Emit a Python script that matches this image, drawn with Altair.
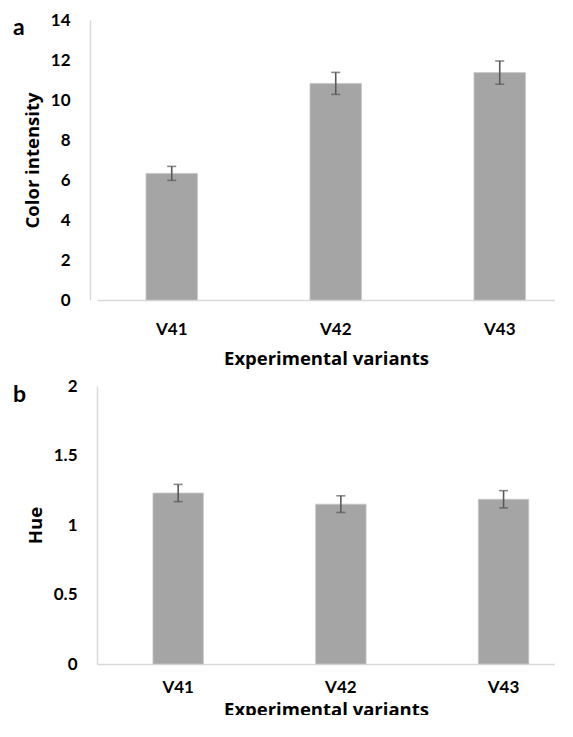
import altair as alt
import pandas as pd

# ---- data ----
variants = ["V41", "V42", "V43"]
color_intensity = [6.33, 10.83, 11.37]
color_intensity_err = [0.35, 0.55, 0.58]
hue = [1.23, 1.15, 1.185]
hue_err = [0.062, 0.06, 0.062]

FONT = "Lato"
TFONT = "Open Sans"
BAR = "#A5A5A5"
ERR = "#595959"
AXIS = "#D9D9D9"


def panel(values, errors, ytitle, ymax, ystep, letter, letter_dy,
          width, height, p_in, p_out, align, yoffset, xlabpad, xtitlepad):
    df = pd.DataFrame({
        "variant": variants,
        "value": values,
        "low": [v - e for v, e in zip(values, errors)],
        "high": [v + e for v, e in zip(values, errors)],
    })
    xscale = alt.Scale(paddingInner=p_in, paddingOuter=p_out, align=align)
    yscale = alt.Scale(domain=[0, ymax], nice=False)
    xaxis = alt.Axis(labelAngle=0, ticks=False, tickSize=0, labelPadding=xlabpad,
                     domainColor=AXIS, domainWidth=1.5, titlePadding=xtitlepad,
                     labelFontSize=17, titleFontSize=18.5, labelOverlap=False)
    tick_values = [i * ystep for i in range(int(round(ymax / ystep)) + 1)]
    yaxis = alt.Axis(values=tick_values, format="~g", grid=False, ticks=False, tickSize=0,
                     labelPadding=20, domainColor=AXIS, domainWidth=1.5,
                     titlePadding=8, labelFontSize=17, titleFontSize=18.5,
                     labelOverlap=False, labelBound=False, offset=yoffset)

    def X():
        return alt.X("variant:N", sort=variants, title="Experimental variants",
                     scale=xscale, axis=xaxis)

    def Y(field):
        return alt.Y(field, title=ytitle, scale=yscale, axis=yaxis)

    base = alt.Chart(df)
    bars = base.mark_bar(color=BAR, stroke="#C8C8C8", strokeWidth=0.8).encode(
        x=X(), y=Y("value:Q"))
    rule = base.mark_rule(color=ERR, strokeWidth=1.6).encode(
        x=X(), y=Y("low:Q"), y2="high:Q")
    cap_lo = base.mark_tick(color=ERR, size=9, thickness=1.6, orient="horizontal").encode(
        x=X(), y=Y("low:Q"))
    cap_hi = base.mark_tick(color=ERR, size=9, thickness=1.6, orient="horizontal").encode(
        x=X(), y=Y("high:Q"))
    lab = alt.Chart(pd.DataFrame({"t": [letter]})).mark_text(
        font=FONT, fontSize=23, fontWeight="bold", align="left", baseline="alphabetic",
        color="black").encode(x=alt.value(-84), y=alt.value(letter_dy), text="t:N")
    return alt.layer(bars, rule, cap_lo, cap_hi, lab).properties(width=width, height=height)


top = panel(color_intensity, color_intensity_err, "Color intensity", 14, 2, "a", 15,
            458, 280, 0.686, 0.2393, 0.624, 7, 21, 12)
bottom = panel(hue, hue_err, "Hue", 2, 0.5, "b", 16,
               458, 278, 0.69, 0.2525, 0.681, 0, 15, 5)

chart = alt.concat(top, bottom, columns=1, spacing=9).properties(
    padding={"left": 5, "top": 3, "right": 0, "bottom": -4}
).configure_axis(
    labelFont=FONT, titleFont=TFONT, labelFontWeight="bold", titleFontWeight="bold",
    labelColor="black", titleColor="black",
).configure_view(stroke=None)

chart.save("out.html", embed_options={"renderer": "svg", "actions": False})
